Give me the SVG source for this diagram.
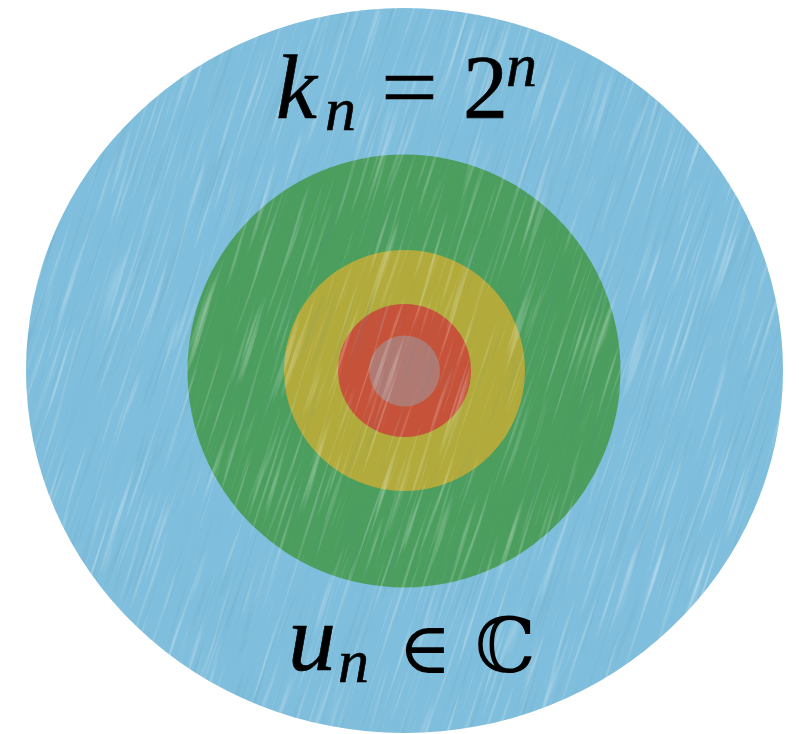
<svg xmlns="http://www.w3.org/2000/svg" width="799" height="734" viewBox="0 0 799 734">
<style>
.m{font-family:"Liberation Serif","DejaVu Serif",serif;fill:#000;stroke:#000;stroke-width:0.6}
.i{font-style:italic}
.s{font-family:"DejaVu Serif","Liberation Serif",serif;fill:#000}
</style>
<defs>
<clipPath id="clip"><ellipse cx="404.5" cy="370.5" rx="378.5" ry="362.5"/></clipPath>
<filter id="streak" x="0" y="0" width="1" height="1" filterUnits="objectBoundingBox">
<feTurbulence type="fractalNoise" baseFrequency="0.25 0.009" numOctaves="2" seed="3"/>
<feColorMatrix values="0 0 0 0 1  0 0 0 0 1  0 0 0 0 1  2.2 0 0 0 -1.22"/>
</filter>
<filter id="streak2" x="0" y="0" width="1" height="1" filterUnits="objectBoundingBox">
<feTurbulence type="fractalNoise" baseFrequency="0.3 0.01" numOctaves="2" seed="11"/>
<feColorMatrix values="0 0 0 0 0.1  0 0 0 0 0.25  0 0 0 0 0.35  2 0 0 0 -1.15"/>
</filter>
</defs>
<g id="outer"><ellipse cx="404.5" cy="370.5" rx="378.5" ry="362.5" fill="#7fbedc"/></g>
<g id="green"><circle cx="404" cy="371" r="216.5" fill="#4b9e5e"/></g>
<g id="yellow"><circle cx="404.5" cy="370.5" r="120.5" fill="#b2ab3c"/></g>
<g id="red"><circle cx="404.5" cy="370.5" r="66.5" fill="#c65239"/></g>
<g id="core"><circle cx="404.5" cy="371" r="35.5" fill="#b07a72"/></g>
<g id="texture" clip-path="url(#clip)" opacity="0.5">
<g transform="rotate(18 404 370)">
<rect x="-300" y="-300" width="1400" height="1400" filter="url(#streak)"/>
<rect x="-300" y="-300" width="1400" height="1400" filter="url(#streak2)" opacity="0.5"/>
</g>
</g>
<g id="label-top">
<text class="m i" x="276" y="118" font-size="92">k</text>
<text class="m i" x="325" y="130" font-size="62">n</text>
<text class="m" x="0" y="118" font-size="90" transform="translate(381 0) scale(1.12 1)">=</text>
<text class="m" x="463" y="118" font-size="90">2</text>
<text class="m i" x="506" y="86" font-size="62">n</text>
</g>
<g id="label-bottom">
<text class="m i" x="288" y="670" font-size="96">u</text>
<text class="m i" x="338" y="682" font-size="62">n</text>
<text class="s" x="398" y="673" font-size="72">∈</text>
<text class="s" x="475" y="672" font-size="76">ℂ</text>
</g>
</svg>
